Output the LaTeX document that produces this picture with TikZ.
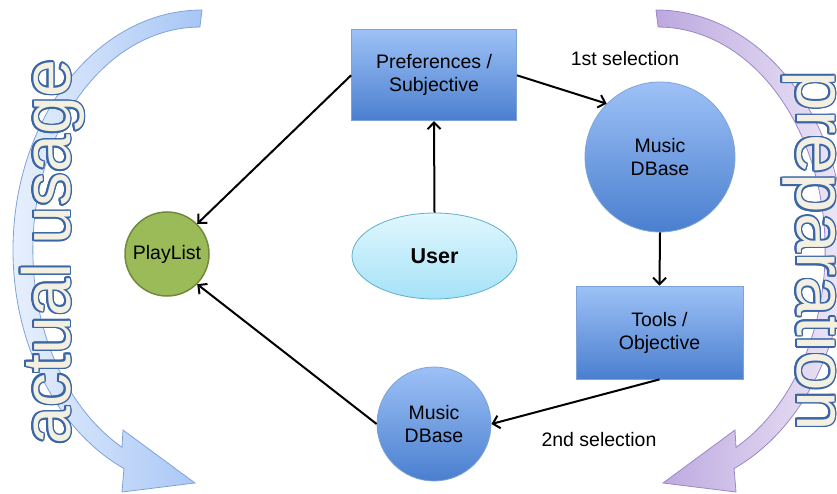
\documentclass[tikz,border=0pt]{standalone}
\usepackage{fontspec}
\setmainfont{Liberation Sans}
\usepackage{contour}
\contourlength{1.5pt}
\usetikzlibrary{arrows.meta,shapes.geometric}
\definecolor{boxtop}{HTML}{9DC1F6}
\definecolor{boxbot}{HTML}{4A7FCF}
\definecolor{boxline}{HTML}{7FA3D6}
\definecolor{usertop}{HTML}{E0F7FE}
\definecolor{userbot}{HTML}{A5E2F7}
\definecolor{userline}{HTML}{62AECB}
\definecolor{plfill}{HTML}{9BBB59}
\definecolor{plline}{HTML}{71893F}
\definecolor{bluelight}{HTML}{E8F0FD}
\definecolor{bluedark}{HTML}{A7C6F5}
\definecolor{blueline}{HTML}{7FA3D8}
\definecolor{purplight}{HTML}{EEE8F7}
\definecolor{purpdark}{HTML}{BCA8DF}
\definecolor{purpline}{HTML}{9A88C6}
\definecolor{cream}{HTML}{F3F0E2}
\definecolor{wordline}{HTML}{3A66A6}
\tikzset{
  txt/.style={font=\fontsize{19.5}{23}\selectfont, align=center, inner sep=0pt},
  box/.style={txt, rectangle, draw=boxline, line width=0.8pt, top color=boxtop, bottom color=boxbot},
  dbase/.style={txt, circle, draw=boxline, line width=0.8pt, top color=boxtop, bottom color=boxbot},
  conn/.style={-{Straight Barb[length=6.5pt,width=13pt]}, line width=2pt, black},
  bigword/.style={text=cream, inner sep=0pt},
  bandarrow/.style={line width=0.8pt}
}
\begin{document}
\begin{tikzpicture}[x=1pt,y=1pt]
\useasboundingbox (0,0) rectangle (837,493);
\clip (0,0) rectangle (837,493);
% big curved arrows
\path[bandarrow, draw=blueline, left color=bluelight, right color=bluedark]
  (202,483) arc[start angle=90, end angle=245.6, x radius=189, y radius=240]
  -- (122,1) -- (195,10) -- (123,63) -- (122,45.7)
  arc[start angle=242.2, end angle=90, x radius=167, y radius=223] -- cycle;
\path[bandarrow, draw=purpline, left color=purpdark, right color=purplight]
  (656,483) arc[start angle=90, end angle=-65.6, x radius=189, y radius=240]
  -- (736,1) -- (663,10) -- (735,63) -- (736,45.7)
  arc[start angle=-62.2, end angle=90, x radius=167, y radius=223] -- cycle;
% big words
\node[bigword, rotate=90, anchor=base, font=\fontsize{68}{68}\selectfont] (usage) at (70,241) {\contour{wordline}{actual usage}};
\node[bigword, rotate=-90, anchor=base, font=\fontsize{71}{71}\selectfont] (prep) at (797,242) {\contour{wordline}{preparation}};
% nodes
\node[box, minimum width=165pt, minimum height=91pt] (prefs) at (434,417.7) {Preferences /\\Subjective};
\node[box, minimum width=167pt, minimum height=93pt] (tools) at (659.5,160.5) {Tools /\\Objective};
\node[dbase, minimum size=150pt] (m1) at (660,336) {Music\\DBase};
\node[dbase, minimum size=114pt] (m2) at (434,69) {Music\\DBase};
\node[ellipse, draw=userline, line width=0.8pt, top color=usertop, bottom color=userbot,
      minimum width=165pt, minimum height=86pt, inner sep=0pt,
      font=\fontsize{21.5}{24}\selectfont\bfseries] (user) at (434.5,237) {User};
\node[txt, circle, fill=plfill, draw=plline, line width=1.5pt, minimum size=84pt] (pl) at (167,239) {PlayList};
\node[txt] (sel1) at (625,434) {1st selection};
\node[txt] (sel2) at (599,53) {2nd selection};
% connectors
\draw[conn] (prefs.west) -- (pl.45);
\draw[conn] (prefs.east) -- (m1.135);
\draw[conn] (m1.south) -- (tools.north);
\draw[conn] (tools.south) -- (m2.east);
\draw[conn] (m2.west) -- (pl.-45);
\draw[conn] (user.north) -- (prefs.south);
\end{tikzpicture}
\end{document}
